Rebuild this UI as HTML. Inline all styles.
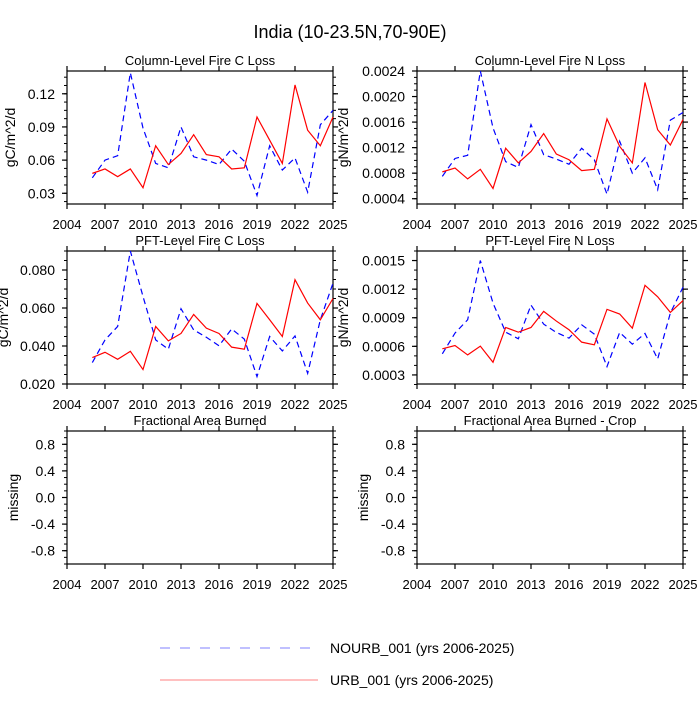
<!DOCTYPE html>
<html><head><meta charset="utf-8"><style>
body{margin:0;background:#fff;width:700px;height:700px;overflow:hidden}
svg text{font-family:"Liberation Sans",Arial,sans-serif;fill:#000}
</style></head><body>
<svg id="c" width="700" height="700" xmlns="http://www.w3.org/2000/svg">
<text x="350" y="38" font-size="18" text-anchor="middle">India (10-23.5N,70-90E)</text>
<g>
<line x1="160" y1="648" x2="318" y2="648" stroke="#8080ff" stroke-width="1" stroke-dasharray="10,10"/>
<text x="330" y="653" font-size="14">NOURB_001 (yrs 2006-2025)</text>
<line x1="160" y1="680" x2="318" y2="680" stroke="#ff8080" stroke-width="1"/>
<text x="330" y="685" font-size="14">URB_001 (yrs 2006-2025)</text>
</g>
</svg>
<script>
const years = [2006,2007,2008,2009,2010,2011,2012,2013,2014,2015,2016,2017,2018,2019,2020,2021,2022,2023,2024,2025];
const xTicks = [2004,2007,2010,2013,2016,2019,2022,2025];
const colCUrb = [0.048,0.052,0.045,0.052,0.035,0.073,0.056,0.066,0.083,0.065,0.063,0.052,0.053,0.099,0.078,0.057,0.128,0.087,0.073,0.099];
const colCNourb = [0.044,0.060,0.064,0.139,0.089,0.057,0.053,0.090,0.063,0.060,0.056,0.070,0.059,0.028,0.073,0.051,0.062,0.031,0.092,0.105];
const colNUrb = [0.00082,0.00088,0.00071,0.00086,0.00056,0.00119,0.00096,0.00114,0.00142,0.0011,0.00101,0.00084,0.00086,0.00165,0.00122,0.00096,0.00222,0.00148,0.00124,0.00164];
const colNNourb = [0.00075,0.00103,0.00108,0.0024,0.00151,0.00098,0.00089,0.00156,0.00109,0.00102,0.00094,0.00119,0.00101,0.00047,0.0013,0.0008,0.00104,0.00054,0.00163,0.00175];
const pftCUrb = [0.0339,0.0367,0.033,0.0372,0.0276,0.0503,0.0427,0.0466,0.0566,0.0494,0.0466,0.0394,0.0383,0.0624,0.0538,0.045,0.0749,0.0626,0.0538,0.065];
const pftCNourb = [0.0313,0.0432,0.0503,0.090,0.0661,0.0432,0.0383,0.0596,0.0485,0.0446,0.0401,0.049,0.0436,0.0239,0.045,0.0374,0.0453,0.0256,0.0538,0.0731];
const pftNUrb = [0.000574,0.000609,0.00051,0.000602,0.000433,0.000798,0.000749,0.000798,0.000967,0.000865,0.000774,0.000644,0.000616,0.000988,0.000939,0.000791,0.00124,0.00112,0.000956,0.00108];
const pftNNourb = [0.000521,0.000739,0.000879,0.0015,0.001054,0.000749,0.000679,0.001033,0.000833,0.000746,0.000686,0.000826,0.000728,0.000388,0.000746,0.000623,0.000735,0.000468,0.000949,0.00122];
const colCTicks = ["0.03","0.06","0.09","0.12"];
const colNTicks = ["0.0004","0.0008","0.0012","0.0016","0.0020","0.0024"];
const pftCTicks = ["0.020","0.040","0.060","0.080"];
const pftNTicks = ["0.0003","0.0006","0.0009","0.0012","0.0015"];
const missTicks = ["-0.8","-0.4","0.0","0.4","0.8"];

const svg = document.getElementById('c');
const NS = 'http://www.w3.org/2000/svg';
function mk(tag, attrs, parent){const e=document.createElementNS(NS,tag);for(const k in attrs)e.setAttribute(k,attrs[k]);(parent||svg).appendChild(e);return e;}

function panel(p){
  const g = mk('g',{});
  
  
  const x0=p.x, x1=p.x+266, y0=p.y, y1=p.y+133;
  const sx = v => x0 + (v-2004)/(2025-2004)*(x1-x0);
  const sy = v => y1 - (v-p.ymin)/(p.ymax-p.ymin)*(y1-y0);
  const fr = mk('rect',{x:x0,y:y0,width:x1-x0,height:y1-y0,fill:'none',stroke:'#000','stroke-width':1.2},g);
  
  
  for(let v=p.ymin0; v<=p.ymax+1e-12; v+=p.minor){
    const y=sy(v); if(y<y0-0.5||y>y1+0.5) continue;
    mk('line',{x1:x0-3,y1:y,x2:x0,y2:y,stroke:'#000','stroke-width':1},g);
    mk('line',{x1:x1,y1:y,x2:x1+3,y2:y,stroke:'#000','stroke-width':1},g);
  }
  p.ticks.forEach(t=>{
    const y=sy(parseFloat(t));
    mk('line',{x1:x0-5,y1:y,x2:x0,y2:y,stroke:'#000','stroke-width':1.2},g);
    mk('line',{x1:x1,y1:y,x2:x1+5,y2:y,stroke:'#000','stroke-width':1.2},g);
    const tx=mk('text',{x:x0-12,y:y+5,'font-size':14,'text-anchor':'end'},g);
    tx.textContent=t;
    
    
  });
  xTicks.forEach(t=>{
    const x=sx(t);
    mk('line',{x1:x,y1:y1,x2:x,y2:y1+5,stroke:'#000','stroke-width':1.2},g);
    mk('line',{x1:x,y1:y0-5,x2:x,y2:y0,stroke:'#000','stroke-width':1.2},g);
    const tx=mk('text',{x:x,y:y1+25,'font-size':13,'text-anchor':'middle'},g);
    tx.textContent=t;
    
    
  });
  const ti=mk('text',{x:(x0+x1)/2,y:y0-6,'font-size':13,'text-anchor':'middle'},g);
  ti.textContent=p.title;
  
  
  const yl=mk('text',{x:p.ylx,y:(y0+y1)/2,'font-size':14,'text-anchor':'middle',transform:'rotate(-90 '+p.ylx+' '+((y0+y1)/2)+')'},g);
  yl.textContent=p.ylabel;
  
  
  if(p.nourb){
    const l=mk('polyline',{points:years.map((yr,i)=>sx(yr)+','+sy(p.nourb[i])).join(' '),fill:'none',stroke:'#0000ff','stroke-width':1.2,'stroke-dasharray':'6,4'},g);
    
    
  }
  if(p.urb){
    const l=mk('polyline',{points:years.map((yr,i)=>sx(yr)+','+sy(p.urb[i])).join(' '),fill:'none',stroke:'#ff0000','stroke-width':1.2},g);
    
    
  }
}

panel({name:'panel-column-fire-c-loss',x:67,y:71,ymin:0.0203,ymax:0.1406,ymin0:0.0,minor:0.0075,ticks:colCTicks,title:'Column-Level Fire C Loss',ylabel:'gC/m^2/d',ylx:15,urb:colCUrb,nourb:colCNourb});
panel({name:'panel-column-fire-n-loss',x:417,y:71,ymin:0.000317,ymax:0.0024,ymin0:0.0,minor:0.0001,ticks:colNTicks,title:'Column-Level Fire N Loss',ylabel:'gN/m^2/d',ylx:348,urb:colNUrb,nourb:colNNourb});
panel({name:'panel-pft-fire-c-loss',x:67,y:251,ymin:0.020,ymax:0.090,ymin0:0.0,minor:0.005,ticks:pftCTicks,title:'PFT-Level Fire C Loss',ylabel:'gC/m^2/d',ylx:8,urb:pftCUrb,nourb:pftCNourb});
panel({name:'panel-pft-fire-n-loss',x:417,y:251,ymin:0.000205,ymax:0.0016,ymin0:0.0,minor:0.0001,ticks:pftNTicks,title:'PFT-Level Fire N Loss',ylabel:'gN/m^2/d',ylx:348,urb:pftNUrb,nourb:pftNNourb});
panel({name:'panel-fractional-area-burned',x:67,y:431,ymin:-1,ymax:1,ymin0:-1,minor:0.1,ticks:missTicks,title:'Fractional Area Burned',ylabel:'missing',ylx:18,urb:null,nourb:null});
panel({name:'panel-fractional-area-burned-crop',x:417,y:431,ymin:-1,ymax:1,ymin0:-1,minor:0.1,ticks:missTicks,title:'Fractional Area Burned - Crop',ylabel:'missing',ylx:368,urb:null,nourb:null});
</script>
</body></html>
